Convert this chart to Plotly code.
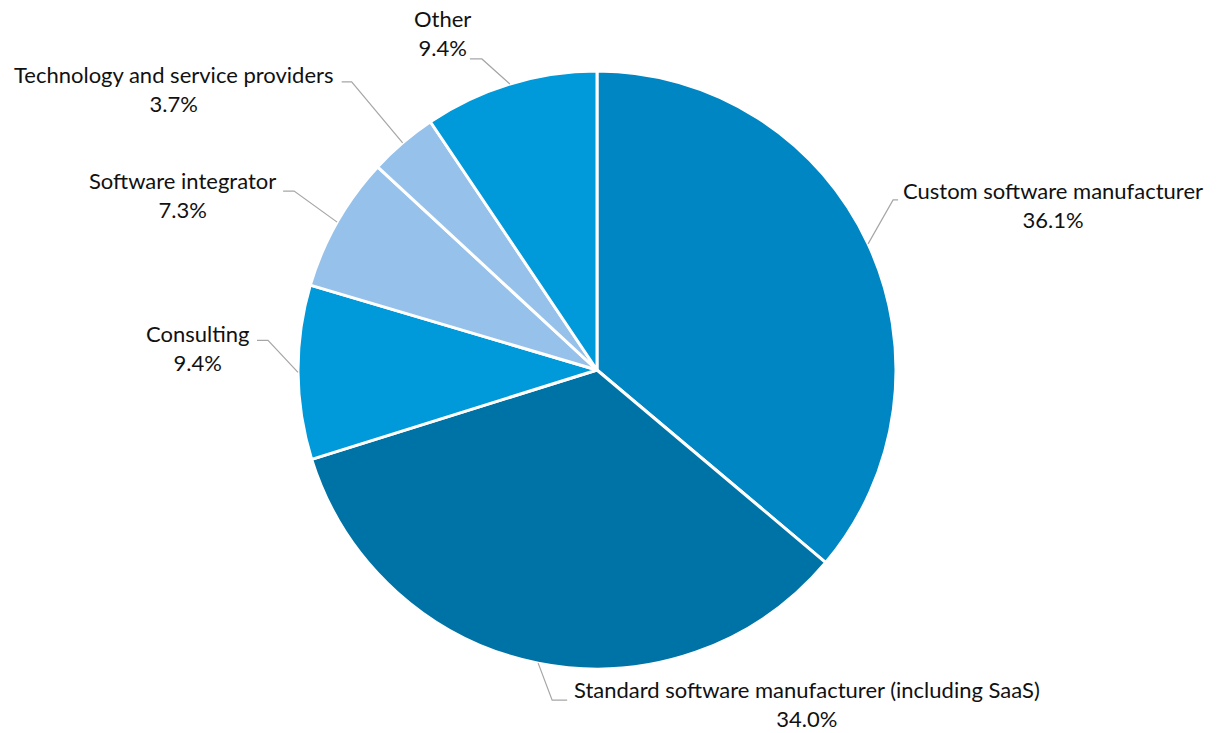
import math
import plotly.graph_objects as go

categories = ["Custom software manufacturer", "Standard software manufacturer (including SaaS)",
              "Consulting", "Software integrator", "Technology and service providers", "Other"]
values = [36.1, 34.0, 9.4, 7.3, 3.7, 9.4]
value_labels = ["36.1%", "34.0%", "9.4%", "7.3%", "3.7%", "9.4%"]
colors = ["#0086C3", "#0073A6", "#0099DA", "#96C1EA", "#96C1EA", "#0099DA"]

W, H = 1219, 733
CX, CY, R = 597, 370, 299

# leader line / label offsets (pixels, relative to slice edge point): elbow, stub end, label centre
offsets = [
    ((25, -44), (30, -44), (185, -39)),
    ((14, 37), (29, 37), (269, 41)),
    ((-30, -32), (-41, -32), (-101, -24)),
    ((-43, -31), (-54, -31), (-155, -27)),
    ((-51, -61), (-61, -61), (-229, -54)),
    ((-28, -25), (-40, -25), (-67, -51)),
]

def px(x):
    return x / W

def py(y):
    return 1 - y / H

fig = go.Figure(go.Pie(
    labels=categories, values=values, sort=False, direction="clockwise", rotation=0,
    marker=dict(colors=colors, line=dict(color="white", width=3)),
    textinfo="none", hoverinfo="label+percent", showlegend=False,
    domain=dict(x=[px(CX - R), px(CX + R)], y=[py(CY + R), py(CY - R)]),
))

total = sum(values)
cum = 0
shapes, annotations = [], []
for cat, val, lab, (elb, stub, lc) in zip(categories, values, value_labels, offsets):
    mid = (cum + val / 2) / total * 2 * math.pi
    cum += val
    ex, ey = CX + R * math.sin(mid), CY - R * math.cos(mid)
    path = "M {} {} L {} {} L {} {}".format(px(ex), py(ey), px(ex + elb[0]), py(ey + elb[1]),
                                            px(ex + stub[0]), py(ey + stub[1]))
    shapes.append(dict(type="path", xref="paper", yref="paper", path=path,
                       line=dict(color="#A6A6A6", width=1.2)))
    annotations.append(dict(x=px(ex + lc[0]), y=py(ey + lc[1]), xref="paper", yref="paper",
                            text=f"{cat}<br>{lab}", showarrow=False, align="center",
                            xanchor="center", yanchor="middle",
                            font=dict(family="Lato", size=22, color="#111111")))

fig.update_layout(width=W, height=H, margin=dict(l=0, r=0, t=0, b=0),
                  paper_bgcolor="white", plot_bgcolor="white",
                  shapes=shapes, annotations=annotations)
fig.write_html("out.html", config={"displayModeBar": False},
               post_script="document.body.style.margin='0';document.body.style.overflow='hidden';")
